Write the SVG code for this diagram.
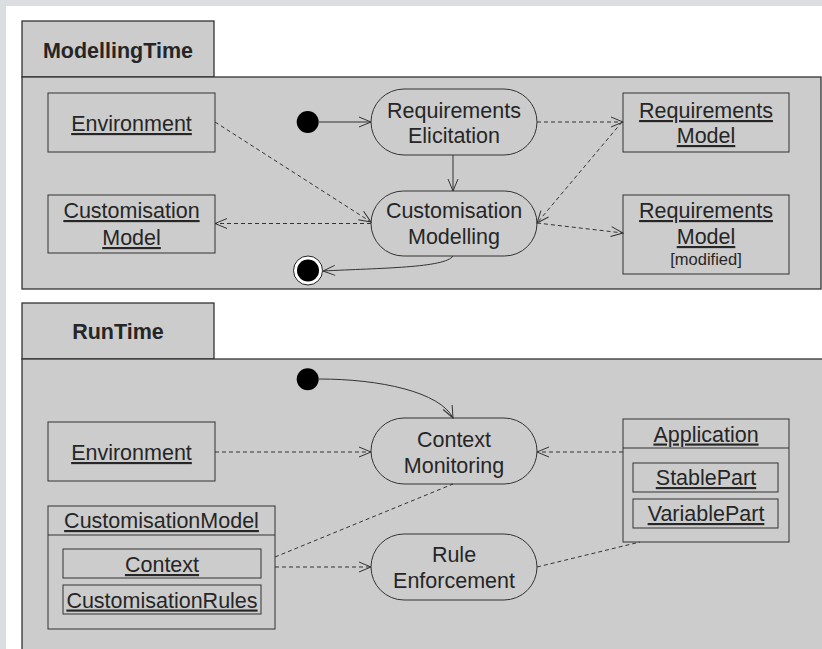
<svg xmlns="http://www.w3.org/2000/svg" width="822" height="649" viewBox="0 0 822 649">
<defs>
<style>
.pkg{fill:#cccccc;stroke:#333;stroke-width:1.3}
.box{fill:none;stroke:#333;stroke-width:1}
.act{fill:none;stroke:#333;stroke-width:1}
.t{font-family:"Liberation Sans",Arial,sans-serif;font-size:21.5px;fill:#262626;text-anchor:middle}
.u{text-decoration:underline}
.b{font-weight:bold}
.s{font-size:16.5px}
.solid{fill:none;stroke:#333;stroke-width:1}
.dash{fill:none;stroke:#333;stroke-width:1;stroke-dasharray:4,3}
</style>
<marker id="arr" viewBox="-14 -7 15 14" refX="0" refY="0" markerWidth="15" markerHeight="14" markerUnits="userSpaceOnUse" orient="auto">
<path d="M-12,-5 L0,0 L-12,5" fill="none" stroke="#333" stroke-width="1"/>
</marker>
</defs>
<rect x="0" y="0" width="822" height="649" fill="#dcdde0"/>
<rect x="6" y="6" width="816" height="643" fill="#ffffff"/>

<g id="pkg-modellingtime">
<rect class="pkg" x="22" y="21" width="192" height="56"/>
<rect class="pkg" x="22" y="77" width="799" height="212"/>
<text class="t b" x="118" y="58">ModellingTime</text>
</g>
<g id="pkg-runtime">
<rect class="pkg" x="22" y="303" width="192" height="56"/>
<rect class="pkg" x="22" y="359" width="812" height="300"/>
<text class="t b" x="118" y="339">RunTime</text>
</g>

<g id="connectors">
<line class="solid" x1="319" y1="122" x2="371" y2="122" marker-end="url(#arr)"/>
<line class="solid" x1="453" y1="155" x2="453" y2="191" marker-end="url(#arr)"/>
<path class="solid" d="M453,256 C445,268 380,268 323,271" marker-end="url(#arr)"/>
<line class="dash" x1="215" y1="122" x2="371" y2="222" marker-end="url(#arr)"/>
<line class="dash" x1="371" y1="223.5" x2="215" y2="223.5" marker-end="url(#arr)"/>
<line class="dash" x1="537" y1="122" x2="623" y2="122" marker-end="url(#arr)"/>
<line class="dash" x1="622" y1="122" x2="537" y2="223" marker-end="url(#arr)"/>
<line class="dash" x1="537" y1="223" x2="623" y2="233" marker-end="url(#arr)"/>
<path class="solid" d="M319,379 C380,379 440,392 453,418" marker-end="url(#arr)"/>
<line class="dash" x1="215" y1="452" x2="371" y2="452" marker-end="url(#arr)"/>
<line class="dash" x1="623" y1="452" x2="537" y2="452" marker-end="url(#arr)"/>
<line class="dash" x1="275" y1="567" x2="371" y2="567" marker-end="url(#arr)"/>
<line class="dash" x1="275" y1="557" x2="453" y2="484"/>
<line class="dash" x1="537" y1="567" x2="640" y2="542"/>
</g>

<g id="mt-environment">
<rect class="box" x="48" y="93" width="167" height="59"/>
<text class="t u" x="131.5" y="131">Environment</text>
</g>
<g id="mt-customisation-model">
<rect class="box" x="48" y="195" width="167" height="58"/>
<text class="t u" x="131.5" y="218">Customisation</text>
<text class="t u" x="131.5" y="245">Model</text>
</g>
<g id="mt-initial">
<circle cx="307.7" cy="122" r="11" fill="#000"/>
</g>
<g id="mt-final">
<circle cx="308" cy="270.5" r="14.5" fill="#fff" stroke="#222" stroke-width="1"/>
<circle cx="308" cy="270.5" r="11" fill="#000"/>
</g>
<g id="mt-requirements-elicitation">
<rect class="act" x="371" y="89" width="166" height="66" rx="33" ry="33"/>
<text class="t" x="454" y="118">Requirements</text>
<text class="t" x="454" y="143">Elicitation</text>
</g>
<g id="mt-customisation-modelling">
<rect class="act" x="371" y="191" width="166" height="65" rx="32.5" ry="32.5"/>
<text class="t" x="454" y="218">Customisation</text>
<text class="t" x="454" y="244">Modelling</text>
</g>
<g id="mt-requirements-model">
<rect class="box" x="623" y="93" width="166" height="59"/>
<text class="t u" x="706" y="118">Requirements</text>
<text class="t u" x="706" y="143">Model</text>
</g>
<g id="mt-requirements-model-modified">
<rect class="box" x="623" y="195" width="166" height="79"/>
<text class="t u" x="706" y="218">Requirements</text>
<text class="t u" x="706" y="244">Model</text>
<text class="t s" x="706" y="265">[modified]</text>
</g>

<g id="rt-initial">
<circle cx="307.7" cy="379.3" r="11" fill="#000"/>
</g>
<g id="rt-environment">
<rect class="box" x="48" y="422" width="167" height="59"/>
<text class="t u" x="131.5" y="460">Environment</text>
</g>
<g id="rt-context-monitoring">
<rect class="act" x="371" y="418" width="166" height="66" rx="33" ry="33"/>
<text class="t" x="454" y="446.5">Context</text>
<text class="t" x="454" y="472.5">Monitoring</text>
</g>
<g id="rt-rule-enforcement">
<rect class="act" x="371" y="534" width="166" height="66" rx="33" ry="33"/>
<text class="t" x="454" y="561.5">Rule</text>
<text class="t" x="454" y="587.5">Enforcement</text>
</g>
<g id="rt-customisation-model">
<rect class="box" x="48" y="506" width="227" height="123"/>
<line class="box" x1="48" y1="535" x2="275" y2="535"/>
<text class="t u" x="161.5" y="528">CustomisationModel</text>
<g id="rt-context">
<rect class="box" x="63" y="549" width="198" height="29"/>
<text class="t u" x="162" y="572">Context</text>
</g>
<g id="rt-customisation-rules">
<rect class="box" x="63" y="585" width="198" height="29" stroke-width="1.6"/>
<text class="t u" x="162" y="607.5">CustomisationRules</text>
</g>
</g>
<g id="rt-application">
<rect class="box" x="623" y="419" width="166" height="123"/>
<line class="box" x1="623" y1="448" x2="789" y2="448"/>
<text class="t u" x="706" y="441.5">Application</text>
<g id="rt-stable-part">
<rect class="box" x="633" y="463" width="145" height="29"/>
<text class="t u" x="706" y="485">StablePart</text>
</g>
<g id="rt-variable-part">
<rect class="box" x="633" y="499" width="145" height="29"/>
<text class="t u" x="706" y="521">VariablePart</text>
</g>
</g>
</svg>
